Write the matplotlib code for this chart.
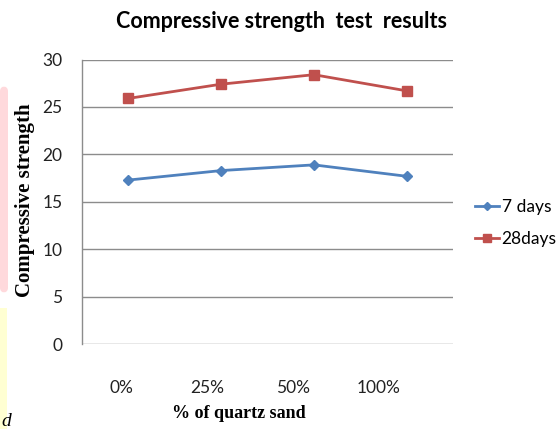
import matplotlib
matplotlib.use("Agg")
import matplotlib.pyplot as plt
from matplotlib.patches import Rectangle, FancyBboxPatch
from matplotlib.lines import Line2D

categories = ["0%", "25%", "50%", "100%"]
days7 = [17.3, 18.3, 18.9, 17.7]
days28 = [25.9, 27.4, 28.4, 26.7]
series_names = ["7 days", "28days"]
title = "Compressive strength  test  results"
xlabel = "% of quartz sand"
ylabel = "Compressive strength"

BLUE = "#4F81BD"
RED = "#C0504D"
GRID = "#8C8C8C"

fig = plt.figure(figsize=(5.6, 4.29), dpi=100)
W, H = 560, 429

# page remnants at the left edge
fig.add_artist(FancyBboxPatch((0, 1 - 293 / H), 8 / W, (293 - 86) / H,
                              boxstyle="round,pad=0,rounding_size=0.012",
                              transform=fig.transFigure, facecolor="#FFD9DC",
                              edgecolor="none", zorder=0))
fig.add_artist(Rectangle((0, 0), 7 / W, 1 - 308 / H, transform=fig.transFigure,
                         facecolor="#FFFFD2", edgecolor="none", zorder=0))
fig.text(1 / W, 1 - 421 / H, "d", fontsize=14, fontstyle="italic",
         family="Liberation Serif", va="center", ha="left")

ax = fig.add_axes([82 / W, 1 - 344.3 / H, 371 / W, 284.8 / H])
x = [i + 0.5 for i in range(len(categories))]
ax.plot(x, days7, color=BLUE, lw=2, marker="D", ms=5.5, label=series_names[0], zorder=3)
ax.plot(x, days28, color=RED, lw=2, marker="s", ms=6.5, label=series_names[1], zorder=3)

ax.set_xlim(0, len(categories))
ax.set_ylim(0, 30)
ax.set_yticks(range(0, 31, 5))
ax.yaxis.grid(True, color=GRID, lw=1)
ax.set_axisbelow(True)
for s in ["top", "right", "bottom"]:
    ax.spines[s].set_visible(False)
ax.spines["left"].set_color(GRID)
ax.spines["left"].set_linewidth(1)
ax.tick_params(axis="y", length=0, pad=14, labelsize=12.5, labelcolor="#222222")
ax.tick_params(axis="x", length=0, labelbottom=False)
for lab in ax.get_yticklabels():
    lab.set_family("Lato")

# category labels (rendered slightly left of the points, as in the source)
axl = ax.twiny()
axl.set_xlim(-0.453, 3.863)
axl.set_xticks(range(len(categories)))
axl.set_xticklabels(categories, family="Lato", fontsize=12.5, color="#222222")
axl.xaxis.set_ticks_position("bottom")
axl.xaxis.set_label_position("bottom")
axl.tick_params(axis="x", length=0, pad=26)
for s in axl.spines.values():
    s.set_visible(False)

fig.text(282 / W, 1 - 22 / H, title, ha="center", va="center", fontsize=15.5,
         fontweight="bold", family="Lato")
fig.text(239 / W, 1 - 414 / H, xlabel, ha="center", va="center", fontsize=13,
         fontweight="bold", family="Liberation Serif")
fig.text(25 / W, 1 - 200 / H, ylabel, ha="center", va="center", rotation=90,
         fontsize=15, fontweight="bold", family="Liberation Serif")

handles = [Line2D([], [], color=BLUE, lw=2, marker="D", ms=4.5),
           Line2D([], [], color=RED, lw=2, marker="s", ms=5.5)]
fig.legend(handles, series_names, loc="center left",
           bbox_to_anchor=(466 / W, 1 - 223 / H), frameon=False,
           prop={"family": "Lato", "size": 12.5}, handlelength=1.4,
           handletextpad=0.15, labelspacing=0.9, borderpad=0)

fig.savefig("out.png", dpi=100, facecolor="white")
